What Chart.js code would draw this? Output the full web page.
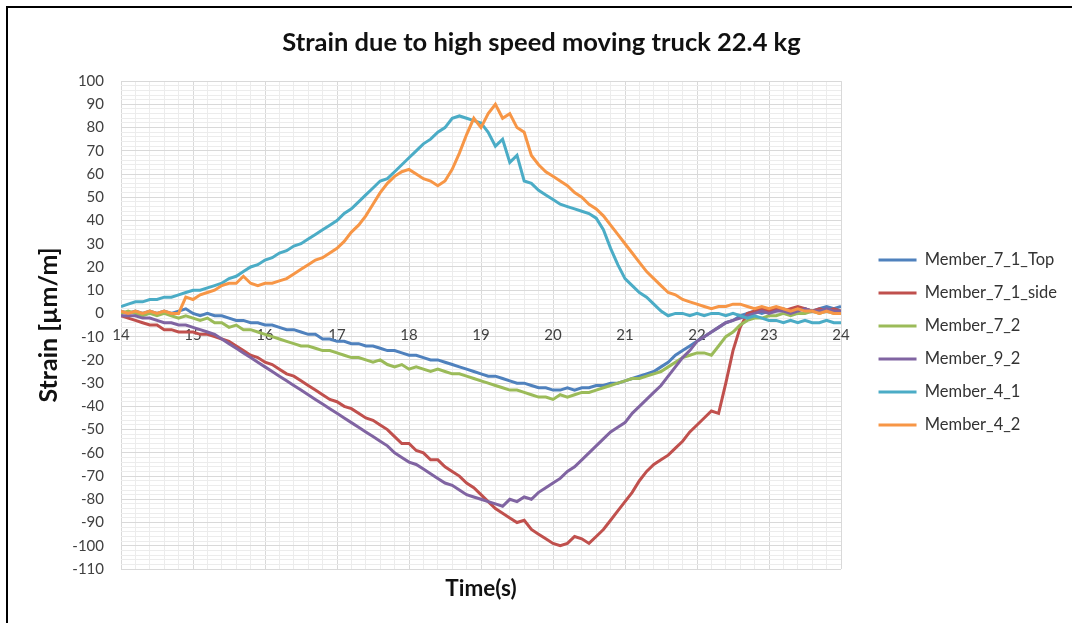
<!DOCTYPE html>
<html lang="en">
<head>
  <meta charset="UTF-8">
  <title>Strain due to high speed moving truck 22.4 kg</title>
  <script src="https://cdn.jsdelivr.net/npm/chart.js"></script>
  <style>
    html, body { margin: 0; padding: 0; background: #fff; overflow: hidden; }
    .wrap { position: relative; width: 1072px; height: 623px; }
    .wrap canvas { position: absolute; left: 0; top: 0; }
    /* chart frame, only the top and left edges fall inside the window */
    .frame {
      position: absolute; left: 6px; top: 6px; width: 1200px; height: 800px;
      border-left: 2px solid #000; border-top: 2px solid #000;
      pointer-events: none;
    }
  </style>
</head>
<body>

<div class="wrap">
  <canvas id="grafikStrain" width="1072" height="623"></canvas>
  <div class="frame"></div>
</div>

<script>
  // sample times (s)
  const waktu = [
    14.0, 14.1, 14.2, 14.3, 14.4, 14.5, 14.6, 14.7, 14.8, 14.9,
    15.0, 15.1, 15.2, 15.3, 15.4, 15.5, 15.6, 15.7, 15.8, 15.9,
    16.0, 16.1, 16.2, 16.3, 16.4, 16.5, 16.6, 16.7, 16.8, 16.9,
    17.0, 17.1, 17.2, 17.3, 17.4, 17.5, 17.6, 17.7, 17.8, 17.9,
    18.0, 18.1, 18.2, 18.3, 18.4, 18.5, 18.6, 18.7, 18.8, 18.9,
    19.0, 19.1, 19.2, 19.3, 19.4, 19.5, 19.6, 19.7, 19.8, 19.9,
    20.0, 20.1, 20.2, 20.3, 20.4, 20.5, 20.6, 20.7, 20.8, 20.9,
    21.0, 21.1, 21.2, 21.3, 21.4, 21.5, 21.6, 21.7, 21.8, 21.9,
    22.0, 22.1, 22.2, 22.3, 22.4, 22.5, 22.6, 22.7, 22.8, 22.9,
    23.0, 23.1, 23.2, 23.3, 23.4, 23.5, 23.6, 23.7, 23.8, 23.9,
    24.0
  ];

  // strain readings (µm/m), one value per sample time
  const member71Top = [
    1, 0, 1, 0, 1, 0, 1, 0, 1, 2,
    0, -1, 0, -1, -1, -2, -3, -3, -4, -4,
    -5, -5, -6, -7, -7, -8, -9, -9, -11, -11,
    -12, -12, -13, -13, -14, -14, -15, -16, -16, -17,
    -18, -18, -19, -20, -20, -21, -22, -23, -24, -25,
    -26, -27, -27, -28, -29, -30, -30, -31, -32, -32,
    -33, -33, -32, -33, -32, -32, -31, -31, -30, -30,
    -29, -28, -27, -26, -25, -23, -21, -18, -16, -14,
    -12, -10, -8, -6, -4, -3, -1, 0, 1, 0,
    1, 1, 2, 1, 2, 2, 1, 2, 3, 2,
    3
  ];
  const member71Side = [
    -1, -2, -3, -4, -5, -5, -7, -7, -8, -8,
    -8, -9, -9, -10, -11, -12, -14, -16, -18, -19,
    -21, -22, -24, -26, -27, -29, -31, -33, -35, -37,
    -38, -40, -41, -43, -45, -46, -48, -50, -53, -56,
    -56, -59, -60, -63, -63, -66, -68, -70, -73, -75,
    -78, -81, -84, -86, -88, -90, -89, -93, -95, -97,
    -99, -100, -99, -96, -97, -99, -96, -93, -89, -85,
    -81, -77, -72, -68, -65, -63, -61, -58, -55, -51,
    -48, -45, -42, -43, -30, -16, -6, 0, 1, 2,
    1, 2, 1, 2, 3, 2, 1, 2, 1, 2,
    1
  ];
  const member72 = [
    0, 1, 0, -1, 0, -1, 0, -1, -2, -1,
    -2, -3, -2, -4, -4, -6, -5, -7, -7, -8,
    -9, -10, -11, -12, -13, -14, -14, -15, -16, -16,
    -17, -18, -19, -19, -20, -21, -20, -22, -23, -22,
    -24, -23, -24, -25, -24, -25, -26, -26, -27, -28,
    -29, -30, -31, -32, -33, -33, -34, -35, -36, -36,
    -37, -35, -36, -35, -34, -34, -33, -32, -31, -30,
    -29, -28, -28, -27, -26, -25, -23, -21, -19, -18,
    -17, -17, -18, -14, -10, -8, -5, -3, -2, -2,
    -1, -1, 0, -1, 0, 0, 1, 0, 1, 0,
    1
  ];
  const member92 = [
    -1, -1, -1, -2, -2, -3, -4, -4, -5, -5,
    -6, -7, -8, -9, -11, -13, -15, -17, -19, -21,
    -23, -25, -27, -29, -31, -33, -35, -37, -39, -41,
    -43, -45, -47, -49, -51, -53, -55, -57, -60, -62,
    -64, -65, -67, -69, -71, -73, -74, -76, -78, -79,
    -80, -81, -82, -83, -80, -81, -79, -80, -77, -75,
    -73, -71, -68, -66, -63, -60, -57, -54, -51, -49,
    -47, -43, -40, -37, -34, -31, -27, -23, -19, -16,
    -12, -10, -8, -6, -4, -3, -2, -1, 0, 1,
    0, 1, 1, 0, 1, 2, 1, 1, 2, 1,
    1
  ];
  const member41 = [
    3, 4, 5, 5, 6, 6, 7, 7, 8, 9,
    10, 10, 11, 12, 13, 15, 16, 18, 20, 21,
    23, 24, 26, 27, 29, 30, 32, 34, 36, 38,
    40, 43, 45, 48, 51, 54, 57, 58, 61, 64,
    67, 70, 73, 75, 78, 80, 84, 85, 84, 83,
    82, 78, 72, 75, 65, 68, 57, 56, 53, 51,
    49, 47, 46, 45, 44, 43, 41, 36, 28, 21,
    15, 12, 9, 7, 4, 1, -1, 0, 0, -1,
    0, -1, 0, 0, -1, 0, -1, -2, -1, -2,
    -3, -3, -4, -3, -4, -3, -4, -4, -3, -4,
    -4
  ];
  const member42 = [
    1, 0, 1, 0, 1, 0, 1, 0, 0, 7,
    6, 8, 9, 10, 12, 13, 13, 16, 13, 12,
    13, 13, 14, 15, 17, 19, 21, 23, 24, 26,
    28, 31, 35, 38, 42, 47, 52, 56, 59, 61,
    62, 60, 58, 57, 55, 57, 62, 69, 77, 84,
    80, 86, 90, 84, 86, 80, 78, 68, 64, 61,
    59, 57, 55, 52, 50, 47, 45, 42, 38, 34,
    30, 26, 22, 18, 15, 12, 9, 8, 6, 5,
    4, 3, 2, 3, 3, 4, 4, 3, 2, 3,
    2, 3, 2, 1, 2, 1, 1, 0, 1, 0,
    0
  ];

  const namaSeri = ['Member_7_1_Top', 'Member_7_1_side', 'Member_7_2', 'Member_9_2', 'Member_4_1', 'Member_4_2'];
  const semuaSeri = [member71Top, member71Side, member72, member92, member41, member42];
  const warnaSeri = ['#4f81bd', '#c0504d', '#9bbb59', '#8064a2', '#4bacc6', '#f79646'];

  const GRID_MAJOR = '#d9d9d9';
  const GRID_MINOR = '#ececec';
  const FONT = 'Lato';

  const bulat = v => Math.abs(v - Math.round(v)) < 1e-6;

  // later series sit on top of earlier ones
  const datasets = semuaSeri.map((nilai, i) => ({
    label: namaSeri[i],
    data: waktu.map((t, j) => ({ x: t, y: nilai[j] })),
    borderColor: warnaSeri[i],
    backgroundColor: warnaSeri[i],
    borderWidth: 3,
    pointRadius: 0,
    tension: 0,
    xAxisID: 'x',
    yAxisID: 'y',
    order: semuaSeri.length - i
  }));

  const ctx = document.getElementById('grafikStrain').getContext('2d');
  new Chart(ctx, {
    type: 'line',
    data: { datasets },
    options: {
      responsive: false,
      animation: false,
      devicePixelRatio: 1,
      layout: { padding: { left: 16, right: 5, top: 0, bottom: 0 } },
      plugins: {
        title: {
          display: true,
          text: 'Strain due to high speed moving truck 22.4 kg',
          color: '#111',
          font: { family: FONT, size: 25.5, weight: 'bold' },
          padding: { top: 27, bottom: 23.5 }
        },
        legend: {
          position: 'right',
          maxWidth: 240,
          // empty title only pushes the entries down a little
          title: { display: true, text: ' ', font: { size: 15 }, padding: { top: 0, bottom: 44 } },
          labels: {
            usePointStyle: true,
            pointStyle: 'line',
            pointStyleWidth: 38,
            padding: 16.5,
            color: '#333',
            font: { family: FONT, size: 16.5 },
            sort: (a, b) => a.datasetIndex - b.datasetIndex
          }
        },
        tooltip: { enabled: false }
      },
      scales: {
        // time axis crosses at strain 0
        x: {
          type: 'linear',
          position: { y: 0 },
          min: 14,
          max: 24,
          ticks: {
            stepSize: 0.2,
            autoSkip: false,
            maxRotation: 0,
            padding: 13,
            color: '#404040',
            font: { family: FONT, size: 15 },
            callback: v => bulat(v) ? String(Math.round(v)) : ''
          },
          grid: {
            drawTicks: false,
            color: c => (c.tick && bulat(c.tick.value)) ? GRID_MAJOR : GRID_MINOR
          },
          border: { display: false }
        },
        // only carries the "Time(s)" title under the plot
        xb: {
          type: 'linear',
          position: 'bottom',
          min: 14,
          max: 24,
          ticks: { display: false },
          grid: { display: false },
          border: { display: false },
          title: {
            display: true,
            text: 'Time(s)',
            color: '#111',
            font: { family: FONT, size: 22.5, weight: 'bold' },
            padding: { top: 0, bottom: 20.5 }
          },
          afterFit: s => { s.height = 54; }
        },
        y: {
          type: 'linear',
          position: 'left',
          min: -110,
          max: 100,
          ticks: {
            stepSize: 2,
            autoSkip: false,
            padding: 17,
            color: '#404040',
            font: { family: FONT, size: 15 },
            callback: v => (v % 10 === 0) ? String(v) : ''
          },
          grid: {
            drawTicks: false,
            color: c => (c.tick && c.tick.value % 10 === 0) ? GRID_MAJOR : GRID_MINOR
          },
          border: { display: false },
          title: {
            display: true,
            text: 'Strain [µm/m]',
            color: '#111',
            font: { family: FONT, size: 25, weight: 'bold' },
            padding: { top: 18, bottom: 0 }
          },
          afterFit: s => { s.width = 105; }
        },
        // spacer between plot and legend
        yr: {
          type: 'linear',
          position: 'right',
          ticks: { display: false },
          grid: { display: false },
          border: { display: false },
          afterFit: s => { s.width = Math.max(0, 1072 - 5 - 841 - s.chart.legend.width); }
        }
      }
    }
  });
</script>

</body>
</html>
